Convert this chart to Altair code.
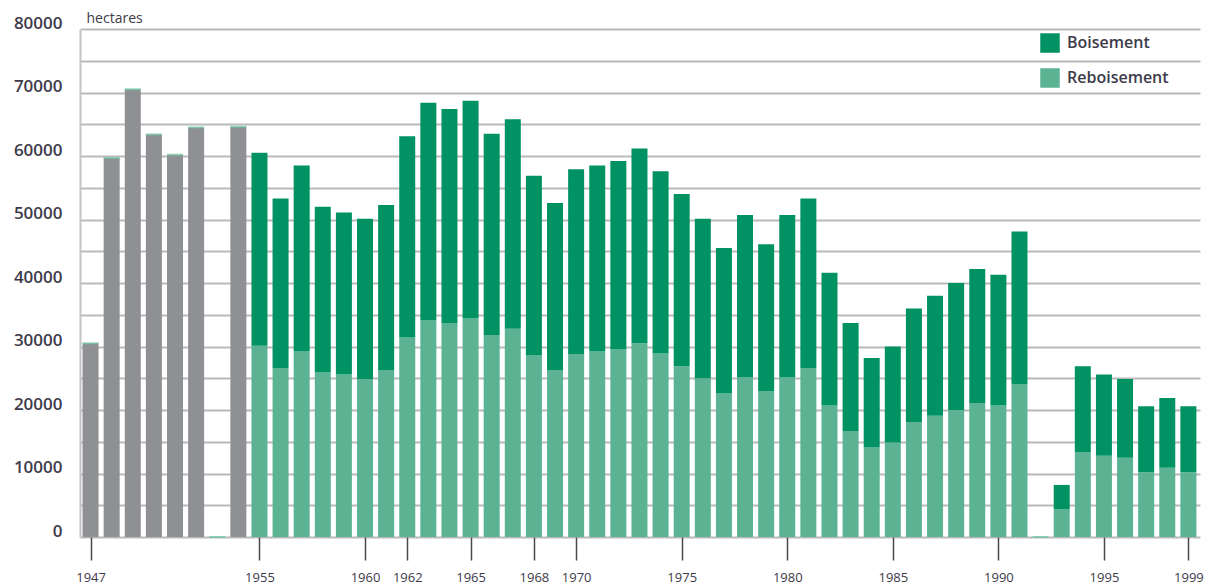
import altair as alt
import pandas as pd

# --- data ---
gray_years = [1947, 1948, 1949, 1950, 1951, 1952, 1954]
gray_values = [30500, 59700, 70500, 63400, 60200, 64500, 64600]

split_years = list(range(1955, 2000))
reboisement = [30100, 26600, 29200, 25900, 25600, 24900, 26300, 31400, 34100, 33700,
               34400, 31800, 32800, 28600, 26300, 28800, 29200, 29600, 30500, 28900,
               26900, 25000, 22600, 25200, 23000, 25200, 26600, 20700, 16700, 14100,
               14900, 18100, 19100, 20000, 21100, 20700, 24000, 0, 4400, 13400,
               12800, 12500, 10200, 10900, 10200]
boisement = [30400, 26700, 29300, 26100, 25500, 25200, 26000, 31700, 34300, 33700,
             34300, 31700, 33000, 28300, 26300, 29100, 29300, 29600, 30700, 28700,
             27100, 25100, 22900, 25500, 23100, 25500, 26700, 20900, 17000, 14100,
             15100, 17900, 18900, 20000, 21100, 20600, 24100, 0, 3800, 13500,
             12800, 12400, 10400, 11000, 10400]

zero_years = [1953, 1992]
tick_years = [1947, 1955, 1960, 1962, 1965, 1968, 1970, 1975, 1980, 1985, 1990, 1995, 1999]

series_names = ["Boisement", "Reboisement", "Total"]
series_colors = ["#009263", "#5bb394", "#8f9094"]

# --- tables ---
rows = []
for y, v in zip(gray_years, gray_values):
    rows.append({"year": y, "serie": "Total", "value": v, "rank": 0})
for y, r, b in zip(split_years, reboisement, boisement):
    rows.append({"year": y, "serie": "Reboisement", "value": r, "rank": 0})
    rows.append({"year": y, "serie": "Boisement", "value": b, "rank": 1})
df = pd.DataFrame(rows)

caps = pd.DataFrame({"year": gray_years + zero_years,
                     "value": gray_values + [0] * len(zero_years)})

txt = "#3d3a4a"
font = "Open Sans"

xscale = alt.Scale(domain=[1946.5, 1999.55], nice=False, zero=False, padding=0)
yscale = alt.Scale(domain=[0, 80000], nice=False, padding=0)

xaxis = alt.Axis(values=tick_years, format="d", grid=False, domain=False,
                 tickSize=23, tickWidth=1.5, tickColor="#4a4a4a",
                 labelPadding=11, labelFontSize=13, labelFont=font,
                 labelColor=txt, labelFlush=False, title=None)
yaxis = alt.Axis(values=list(range(0, 80001, 5000)),
                 labelExpr="datum.value % 10000 == 0 ? '' + datum.value : ''",
                 labelFontSize=17, labelFontWeight=600, labelFont=font,
                 labelColor=txt, labelPadding=18, labelOffset=-6,
                 ticks=False, grid=True, gridColor="#bababa", gridWidth=2,
                 domain=True, domainColor="#c4c4c4", domainWidth=2,
                 title="hectares", titleAngle=0, titleX=6, titleY=-11,
                 titleAlign="left", titleBaseline="middle",
                 titleFontSize=14, titleFontWeight="normal",
                 titleFont=font, titleColor=txt)

bars = alt.Chart(df).mark_bar(size=16).encode(
    x=alt.X("year:Q", scale=xscale, axis=xaxis),
    y=alt.Y("value:Q", stack="zero", scale=yscale, axis=yaxis),
    color=alt.Color("serie:N",
                    scale=alt.Scale(domain=series_names, range=series_colors),
                    legend=alt.Legend(values=["Boisement", "Reboisement"], title=None,
                                      orient="none", legendX=960, legendY=4,
                                      symbolType="square", symbolSize=380,
                                      symbolStrokeWidth=0, labelFontSize=16,
                                      labelFontWeight=600, labelFont=font,
                                      labelColor=txt, labelOffset=7,
                                      rowPadding=15, padding=0)),
    order=alt.Order("rank:Q"),
)

cap_marks = alt.Chart(caps).mark_tick(orient="horizontal", size=16, thickness=2,
                                      color="#6cc4a2").encode(
    x=alt.X("year:Q", scale=xscale, axis=xaxis),
    y=alt.Y("value:Q", scale=yscale, axis=yaxis),
)

chart = alt.layer(bars, cap_marks).properties(
    width=1120, height=508,
    padding={"left": 72, "top": 21, "right": 6, "bottom": 50},
    autosize=alt.AutoSizeParams(type="none"),
).configure_view(stroke=None)

chart.save("out.html", embed_options={"renderer": "svg", "actions": False})
